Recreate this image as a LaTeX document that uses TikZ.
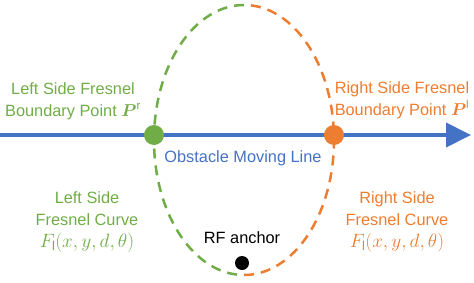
\documentclass[tikz,border=0pt]{standalone}
\usepackage{fontspec}
\setmainfont{Liberation Sans}
\usepackage{amsmath}
\usepackage{bm}
\usepackage{graphicx}
\usetikzlibrary{arrows.meta,positioning}
\definecolor{lineblue}{HTML}{4472C4}
\definecolor{leftgreen}{HTML}{70AD47}
\definecolor{rightorange}{HTML}{ED7D31}
\newcommand{\curvefn}{\scalebox{1.12}{$F_{\mathrm{l}}(x,y,d,\theta)$}}

\begin{document}
\begin{tikzpicture}[
  x=1bp,y=1bp,
  node distance=12bp,
  lbl/.style={align=center,inner sep=0pt,font=\fontsize{16.4}{22}\selectfont},
  dot/.style={circle,inner sep=0pt,minimum size=20bp},
  half/.style={dash pattern=on 10bp off 7bp,line width=2.5bp},
  arr/.style={-{Triangle[length=25bp,width=24bp]},line width=4bp,draw=lineblue}
]
\useasboundingbox (0,0) rectangle (474,282);

% fresnel ellipse, one half per side
\draw[half,leftgreen] (244,277) arc[start angle=90,end angle=270,x radius=90,y radius=135];
\draw[half,rightorange] (244,7) arc[start angle=-90,end angle=90,x radius=90,y radius=135];

% obstacle moving line
\coordinate (start) at (0,147);
\coordinate (stop) at (471,147);
\draw[arr] (start) -- (stop);

\node[dot,fill=leftgreen] (pr) at (154,147) {};
\node[dot,fill=rightorange] (pl) at (334,147) {};
\node[dot,fill=black,minimum size=14bp] (anchor) at (242,19) {};

\node[lbl,text=leftgreen] (leftpt) at (73,181) {Left Side Fresnel\\Boundary Point $\bm{P}^{\mathrm{r}}$};
\node[lbl,text=rightorange] (rightpt) at (402,182) {Right Side Fresnel\\Boundary Point $\bm{P}^{\mathrm{l}}$};
\node[lbl,text=lineblue] (move) at (243,124) {Obstacle Moving Line};
\node[lbl,text=leftgreen] (leftcurve) at (87,60) {Left Side\\Fresnel Curve\\\curvefn};
\node[lbl,text=rightorange] (rightcurve) at (397,60) {Right Side\\Fresnel Curve\\\curvefn};
\node[lbl,above=of anchor] (rf) {RF anchor};
\end{tikzpicture}
\end{document}
